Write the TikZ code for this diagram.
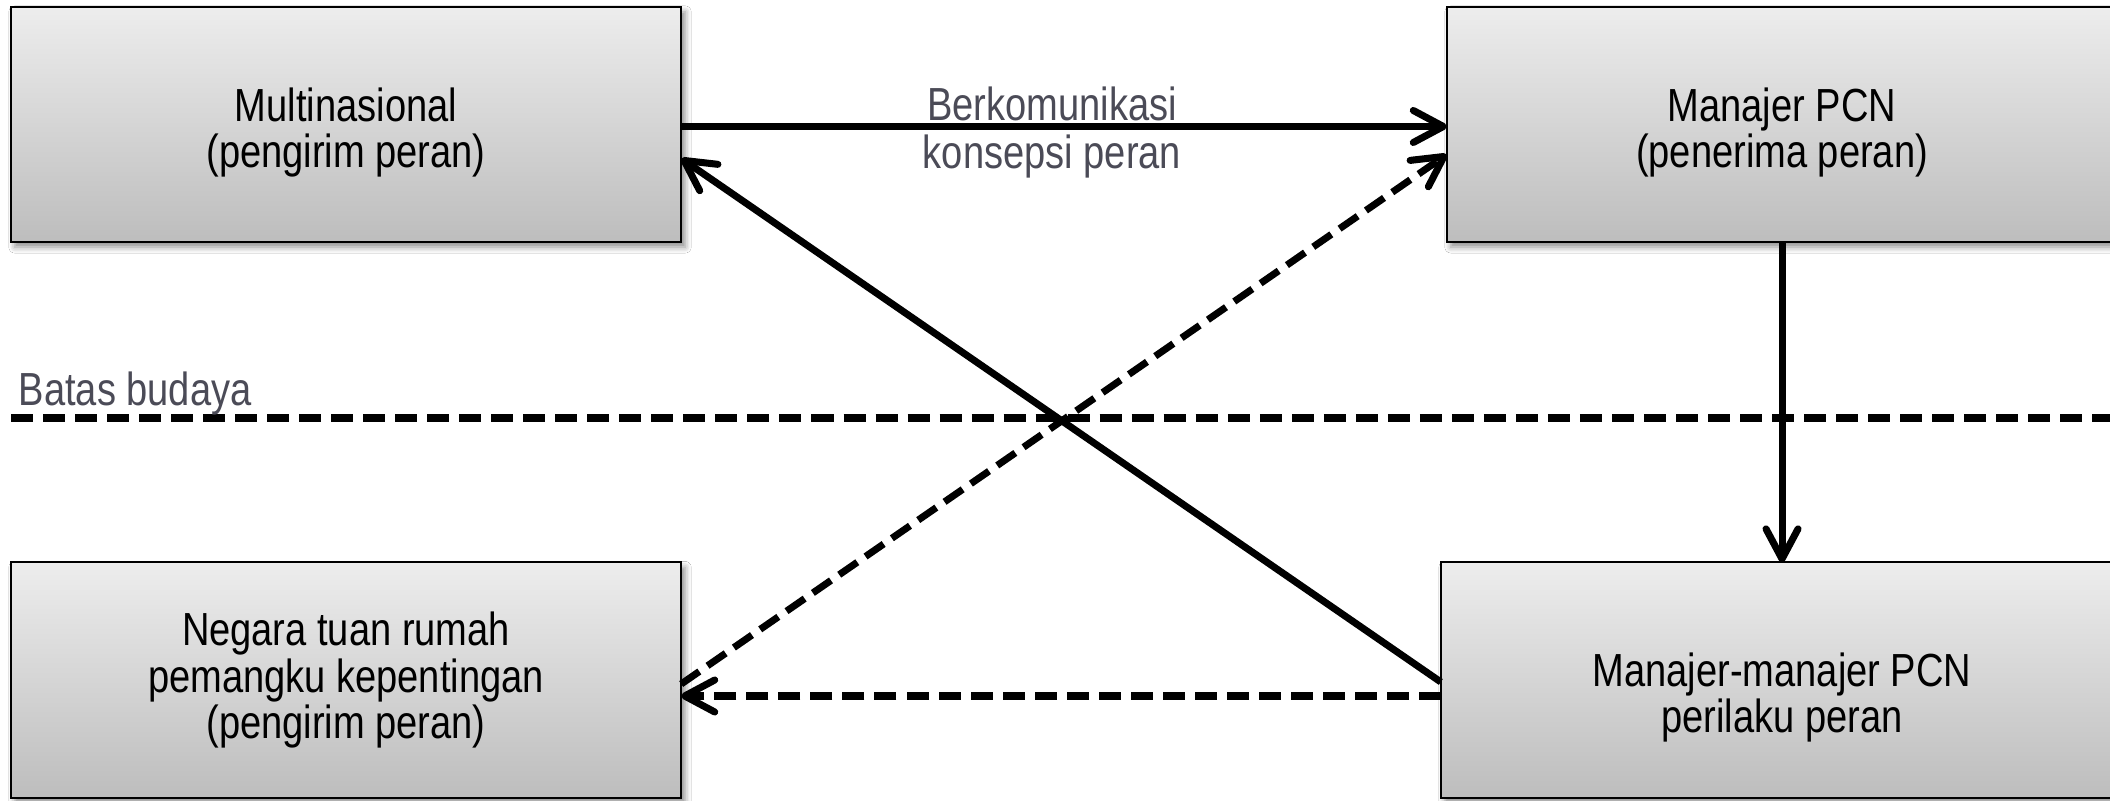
\documentclass[tikz,border=0pt]{standalone}
\usepackage{fontspec}
\setmainfont[FakeStretch=0.82]{Liberation Sans}
\usetikzlibrary{arrows.meta,shadows.blur,calc}
\definecolor{labelgray}{HTML}{4B4B57}
\definecolor{boxtop}{HTML}{EDEDED}
\definecolor{boxbot}{HTML}{BDBDBD}
\newcommand{\lowered}[2]{\raisebox{-#1}[\height][\depth]{\parbox{6cm}{\centering #2}}}
\begin{document}
\begin{tikzpicture}[x=0.01cm,y=-0.01cm,
  rolebox/.style={draw=black, line width=0.6pt, top color=boxtop, bottom color=boxbot,
    minimum width=6.7cm, minimum height=2.35cm, inner sep=0pt, outer sep=0pt,
    align=center, font=\fontsize{13.2pt}{13.1pt}\selectfont,
    blur shadow={shadow xshift=0.04cm, shadow yshift=-0.05cm, shadow blur radius=0.06cm, shadow opacity=45}},
  conn/.style={line width=2pt, -{Straight Barb[length=0.3cm,width=0.32cm,round]}},
  dashconn/.style={conn, dash pattern=on 0.22cm off 0.1cm},
  lbl/.style={text=labelgray, font=\fontsize{13.2pt}{14pt}\selectfont, inner sep=0pt}
]
\useasboundingbox (0,0) rectangle (2110,801);
\fill[white] (0,0) rectangle (2110,801);

\node[rolebox] (mn) at (346,124.5) {\lowered{0.08cm}{Multinasional\\(pengirim peran)}};
\node[rolebox] (pcn) at (1782,124.5) {\lowered{0.08cm}{Manajer PCN\\(penerima peran)}};
\node[rolebox] (host) at (346,680) {Negara tuan rumah\\pemangku kepentingan\\(pengirim peran)};
\node[rolebox, minimum width=6.82cm] (beh) at (1782,680) {\lowered{0.175cm}{Manajer-manajer PCN\\perilaku peran}};

% culture boundary
\coordinate (bl) at (11,418);
\coordinate (br) at (2110,418);
\draw[line width=2pt, dash pattern=on 0.22cm off 0.1cm] (bl) -- (br);
\node[lbl, anchor=base west] (batas) at (18,406) {Batas budaya};

% connectors
\draw[conn] ($(mn.east)+(0,2)$) -- ($(pcn.west)+(0,2)$);
\node[lbl, anchor=base] (berk) at (1052,121) {Berkomunikasi};
\node[lbl, anchor=base] (kons) at (1052,169) {konsepsi peran};

\draw[conn] (pcn.south) -- (beh.north);
\draw[conn] ($(beh.west)+(0,2)$) -- ($(mn.east)+(0,34)$);
\draw[dashconn] ($(host.east)+(0,4)$) -- ($(pcn.west)+(0,30)$);
\draw[dashconn] ($(beh.west)+(0,16)$) -- ($(host.east)+(0,16)$);
\end{tikzpicture}
\end{document}
